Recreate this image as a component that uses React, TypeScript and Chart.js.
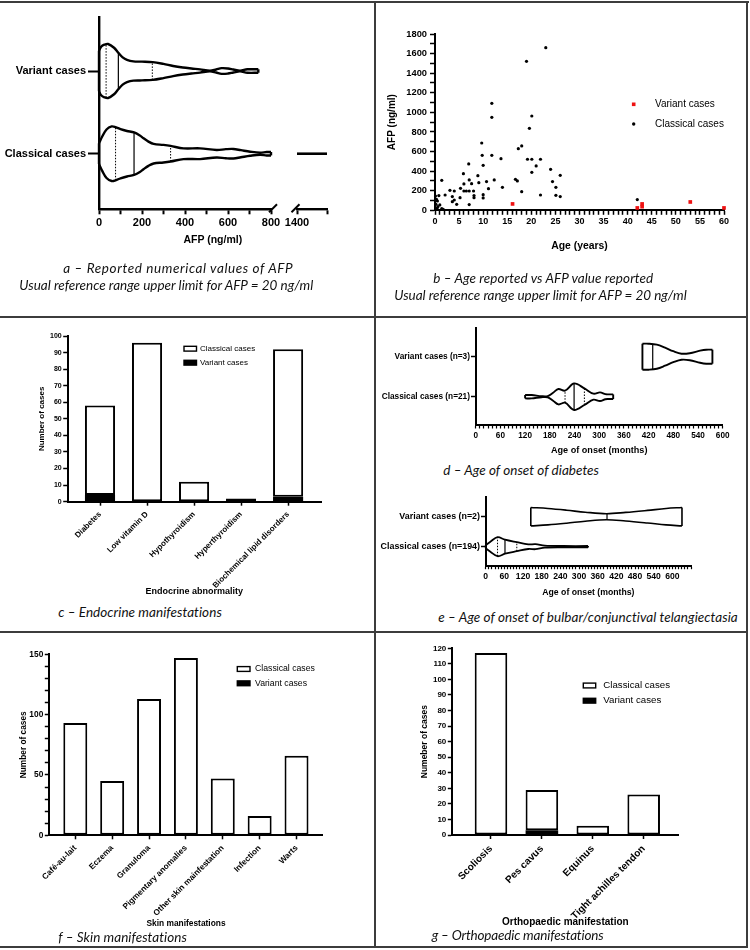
import React, { useEffect, useLayoutEffect, useRef } from "react";
import { Chart, registerables } from "chart.js";
Chart.register(...registerables);

const FONT = "'Liberation Sans', Arial, sans-serif";
const CAPTION_FONT = "Lato, 'Open Sans', sans-serif";

// ===== a: reported AFP values (violins) =====
const afpGroups = ["Classical cases", "Variant cases"];
const afpTicks = [0, 100, 200, 300, 400, 500, 600, 700, 800];
const afpBreakTicks = [1400, 1600];
const afpVariantValues = [0, 10, 25, 42, 70, 90, 110, 130, 160, 200, 250, 300, 345, 390, 430, 470, 516, 545, 570, 600, 625, 656, 690, 741];
const afpVariantDensity = [20, 24, 26, 26.7, 23, 18, 13.5, 11, 9.5, 9.3, 8.8, 7, 5, 3.5, 2.5, 1.6, 0.3, 1.5, 2.8, 2.5, 1.5, 0.4, 1.7, 1.7];
const afpVariantQuartiles = [33, 90, 248];
const afpClassicalValues = [0, 15, 35, 59, 77, 100, 130, 163, 190, 207, 230, 254, 300, 333, 393, 470, 547, 590, 625, 660, 703, 749, 780, 800];
const afpClassicalDensity = [10.3, 17, 24, 27, 26.3, 24.3, 22.5, 21, 18, 15.3, 12, 9.7, 8.7, 7.7, 5.3, 5.3, 3.7, 4.5, 4.7, 3.5, 2, 1, 1.7, 1.7];
const afpClassicalQuartiles = [77, 163, 333];
const afpClassicalTail = [1400, 1600];

// ===== b: age vs AFP =====
const classicalAge = [0.1, 0.3, 0.5, 0.2, 0.6, 0.4, 1.0, 1.4, 1.7, 0.8, 1.4, 2.1, 3.1, 3.6, 3.6, 4.0, 4.0, 4.5, 5.2, 5.3, 5.9, 6.0, 6.0, 6.5, 7.0, 7.1, 7.1, 7.1, 7.6, 8.0, 8.1, 8.1, 8.9, 9.1, 9.7, 9.8, 10.0, 10.0, 10.0, 10.7, 11.1, 11.8, 11.8, 11.8, 12.3, 13.7, 14.0, 16.7, 17.1, 17.3, 18.0, 18.0, 19.0, 19.2, 19.6, 20.1, 20.1, 20.1, 21.0, 21.9, 21.9, 23.0, 24.0, 24.4, 25.1, 25.1, 26.0, 26.0, 42.0];
const classicalAfp = [146, 112, 95, 61, 37, 20, 55, 17, 10, 150, 306, 156, 204, 140, 88, 197, 105, 61, 129, 224, 374, 269, 197, 197, 473, 310, 197, 58, 272, 197, 150, 129, 354, 282, 687, 561, 459, 160, 126, 293, 221, 1092, 949, 561, 310, 527, 235, 316, 300, 629, 657, 190, 1521, 521, 837, 963, 521, 388, 453, 521, 156, 1660, 418, 293, 235, 153, 357, 140, 109];
const variantAge = [16.1, 42.0, 43.0, 43.0, 53.0, 60.0];
const variantAfp = [65, 24, 65, 37, 85, 24];
const ageTicks = Array.from({ length: 61 }, (_, i) => i);
const afpAxisTicks = Array.from({ length: 19 }, (_, i) => i * 100);

// ===== c: endocrine =====
const endocrineCategories = ["Diabetes", "Low vitamin D", "Hypothyroidism", "Hyperthyroidism", "Biochemical lipid disorders"];
const endocrineVariant = [4, 0, 0, 0, 3];
const endocrineClassical = [54, 96, 12, 2, 89];
const endocrineTicks = [0, 10, 20, 30, 40, 50, 60, 70, 80, 90, 100];

// ===== d: diabetes onset =====
const diabGroups = ["Classical cases (n=21)", "Variant cases (n=3)"];
const diabVariantValues = [405, 420, 440, 460, 480, 500, 520, 545, 560, 575];
const diabVariantDensity = [13, 13, 12, 9, 5.5, 3, 3.5, 6, 7, 7];
const diabVariantQuartiles = [430];
const diabClassicalValues = [120, 136, 160, 175, 188, 201, 217, 239, 264, 286, 302, 315, 322, 334];
const diabClassicalDensity = [1.7, 1.7, 0.5, 0.6, 4, 7.7, 6, 13.3, 8.3, 3, 4.3, 2.5, 2.3, 2.3];
const diabClassicalQuartiles = [217, 239, 264];
const monthTicks600 = Array.from({ length: 61 }, (_, i) => i * 10);

// ===== e: telangiectasia onset =====
const telGroups = ["Classical cases (n=194)", "Variant cases (n=2)"];
const telVariantValues = [145, 200, 260, 320, 388, 450, 520, 580, 631];
const telVariantDensity = [9.2, 8.2, 6.5, 4.5, 3, 4.3, 6.3, 8.2, 9.2];
const telVariantQuartiles = [390];
const telClassicalValues = [0, 15, 38, 62, 100, 137, 160, 190, 250, 329];
const telClassicalDensity = [1.5, 5, 9.5, 7, 4.5, 2.3, 2.5, 1, 0.7, 0.7];
const telClassicalQuartiles = [38, 62, 100];
const monthTicks660 = Array.from({ length: 67 }, (_, i) => i * 10);

// ===== f: skin =====
const skinCategories = ["Café-au-lait", "Eczema", "Granuloma", "Pigmentary anomalies", "Other skin mainfestation", "Infection", "Warts"];
const skinClassical = [93, 45, 113, 147, 47, 16, 66];
const skinVariant = [0, 0, 0, 0, 0, 0, 0];
const skinTicks = Array.from({ length: 16 }, (_, i) => i * 10);

// ===== g: orthopaedic =====
const orthoCategories = ["Scoliosis", "Pes cavus", "Equinus", "Tight achilles tendon"];
const orthoVariant = [0, 3, 0, 0];
const orthoClassical = [117, 26, 6, 26];
const orthoTicks = Array.from({ length: 13 }, (_, i) => i * 10);

// ---------------------------------------------------------------
type Rect = { x: number; y: number; w: number; h: number };
type Area = { l: number; t: number; r: number; b: number };

const legendPlugin = {
  id: "boxLegend",
  afterDraw(chart: any, _a: any, opts: any) {
    if (!opts || !opts.order) return;
    const { ctx, chartArea } = chart;
    ctx.save();
    opts.order.forEach((di: number, i: number) => {
      const ds = chart.data.datasets[di];
      const cx = chartArea.left + opts.x;
      const cy = chartArea.top + opts.y + i * opts.gap;
      if (opts.kind === "box") {
        ctx.fillStyle = ds.backgroundColor;
        ctx.fillRect(cx, cy - opts.bh / 2, opts.bw, opts.bh);
        ctx.strokeStyle = "#000";
        ctx.lineWidth = 1.4;
        ctx.strokeRect(cx, cy - opts.bh / 2, opts.bw, opts.bh);
      } else {
        ctx.fillStyle = ds.backgroundColor;
        if (ds.pointStyle === "rect") {
          ctx.fillRect(cx - 1.8, cy - 1.8, 3.6, 3.6);
        } else {
          ctx.beginPath();
          ctx.arc(cx, cy, 1.7, 0, Math.PI * 2);
          ctx.fill();
        }
      }
      ctx.fillStyle = "#000";
      ctx.font = `${opts.font}px ${FONT}`;
      ctx.textBaseline = "middle";
      ctx.textAlign = "left";
      ctx.fillText(ds.label, cx + opts.tx, cy);
    });
    ctx.restore();
  },
};

const breakPlugin = {
  id: "breakMark",
  afterDraw(chart: any, _a: any, opts: any) {
    if (!opts || !opts.side) return;
    const { ctx, chartArea } = chart;
    const x = (opts.side === "right" ? chartArea.right : chartArea.left) + opts.dx;
    const y = chartArea.bottom - 1;
    ctx.save();
    ctx.strokeStyle = "#000";
    ctx.lineWidth = 2;
    ctx.beginPath();
    ctx.moveTo(x - 4, y + 4);
    ctx.lineTo(x + 4, y - 4);
    ctx.stroke();
    ctx.restore();
  },
};

function makeAxis(axis: "x" | "y", s: any, rect: Rect, area: Area) {
  const size = axis === "x" ? rect.y + rect.h - area.b : area.l - rect.x;
  let titlePad = 0;
  if (s.title) {
    const lh = s.title.font * 1.2;
    titlePad = axis === "y" ? s.title.center - rect.x - lh / 2 : rect.y + rect.h - s.title.center - lh / 2;
  }
  return {
    type: "linear",
    position: axis === "x" ? "bottom" : "left",
    min: s.min,
    max: s.max,
    offset: false,
    stacked: !!s.stacked,
    afterBuildTicks: (sc: any) => {
      sc.ticks = s.ticks.map((v: number) => ({ value: v }));
    },
    afterFit: (sc: any) => {
      if (axis === "x") sc.height = size;
      else sc.width = size;
    },
    border: { display: !s.hidden, color: "#000", width: s.borderWidth ?? 2 },
    grid: {
      display: !s.hidden,
      offset: false,
      drawOnChartArea: false,
      drawTicks: true,
      tickLength: s.tickLen,
      tickColor: "#000",
      tickWidth: s.tickWidth ?? 1.5,
      color: "#000",
    },
    ticks: {
      display: !s.hidden,
      color: "#000",
      font: { family: FONT, size: s.font, weight: "bold" },
      padding: s.pad,
      autoSkip: false,
      minRotation: s.rotation ?? 0,
      maxRotation: s.rotation ?? 0,
      callback: (v: any) => s.label(v),
    },
    title: s.title
      ? {
          display: true,
          text: s.title.text,
          color: "#000",
          font: { family: FONT, size: s.title.font, weight: "bold", lineHeight: 1.2 },
          padding: axis === "y" ? { top: titlePad, bottom: 0 } : { top: 0, bottom: titlePad },
        }
      : { display: false },
  };
}

function baseOptions(rect: Rect, area: Area, scales: any, plugins: any = {}) {
  return {
    responsive: false,
    animation: false,
    devicePixelRatio: 1,
    events: [],
    layout: { padding: { left: 0, top: area.t - rect.y, right: rect.x + rect.w - area.r, bottom: 0 } },
    plugins: { legend: { display: false }, tooltip: { enabled: false }, ...plugins },
    scales,
  };
}

function interp(vals: number[], dens: number[], v: number) {
  for (let i = 0; i < vals.length - 1; i++) {
    if (v >= vals[i] && v <= vals[i + 1]) {
      const t = (v - vals[i]) / (vals[i + 1] - vals[i]);
      return dens[i] + t * (dens[i + 1] - dens[i]);
    }
  }
  return 0;
}

function lineDs(data: any[], lw: number, extra: any = {}) {
  return {
    data,
    showLine: true,
    borderColor: "#000",
    backgroundColor: "#000",
    borderWidth: lw,
    pointRadius: 0,
    tension: 0.35,
    fill: false,
    clip: false,
    ...extra,
  };
}

function violin(vals: number[], dens: number[], center: number, k: number, lw: number, quart: number[]) {
  const top = vals.map((v, i) => ({ x: v, y: center + dens[i] * k }));
  const bot = vals.map((v, i) => ({ x: v, y: center - dens[i] * k }));
  const n = vals.length - 1;
  const ds: any[] = [
    lineDs(top, lw),
    lineDs(bot, lw),
    lineDs([{ x: vals[0], y: center - dens[0] * k }, { x: vals[0], y: center + dens[0] * k }], lw, { tension: 0 }),
    lineDs([{ x: vals[n], y: center - dens[n] * k }, { x: vals[n], y: center + dens[n] * k }], lw, { tension: 0 }),
  ];
  quart.forEach((q) => {
    const h = interp(vals, dens, q) * k;
    const isMedian = quart.length === 1 || q === quart[1];
    ds.push(
      lineDs([{ x: q, y: center - h }, { x: q, y: center + h }], isMedian ? 1.2 : 1, {
        tension: 0,
        borderDash: isMedian ? [] : [1.5, 1.5],
      })
    );
  });
  return ds;
}

function ChartCanvas({ rect, config }: { rect: Rect; config: () => any }) {
  const ref = useRef<HTMLCanvasElement>(null);
  useEffect(() => {
    const c = new Chart(ref.current as HTMLCanvasElement, config());
    return () => c.destroy();
  }, []);
  return (
    <canvas
      ref={ref}
      width={rect.w}
      height={rect.h}
      style={{ position: "absolute", left: rect.x, top: rect.y, width: rect.w, height: rect.h }}
    />
  );
}

// ---------- chart configs ----------
const rA1: Rect = { x: 0, y: 4, w: 300, h: 250 };
const aA1: Area = { l: 99, t: 17, r: 271, b: 209.3 };
const rA2: Rect = { x: 278, y: 4, w: 70, h: 250 };
const aA2: Area = { l: 297, t: 17, r: 327, b: 209.3 };
const A_YMIN = -0.672, A_YMAX = 1.653, A_K = 0.33 / 27;

function configA1() {
  return {
    type: "scatter",
    data: {
      datasets: [
        ...violin(afpVariantValues, afpVariantDensity, 1, A_K, 2.4, afpVariantQuartiles),
        ...violin(afpClassicalValues, afpClassicalDensity, 0, A_K, 2.4, afpClassicalQuartiles),
      ],
    },
    options: baseOptions(rA1, aA1, {
      x: makeAxis("x", { min: 0, max: 800, ticks: afpTicks, label: (v: number) => (v % 200 === 0 ? String(v) : ""), font: 11, tickLen: 5, pad: 2, borderWidth: 2.4, tickWidth: 2 }, rA1, aA1),
      y: makeAxis("y", { min: A_YMIN, max: A_YMAX, ticks: [0, 1], label: (v: number) => afpGroups[v] ?? "", font: 11, tickLen: 11, pad: 2, borderWidth: 2.4, tickWidth: 2 }, rA1, aA1),
    }, { breakMark: { side: "right", dx: 2 } }),
    plugins: [breakPlugin],
  };
}

function configA2() {
  return {
    type: "scatter",
    data: {
      datasets: [lineDs(afpClassicalTail.map((v) => ({ x: v, y: 0 })), 2.6, { tension: 0 })],
    },
    options: baseOptions(rA2, aA2, {
      x: makeAxis("x", { min: 1400, max: 1600, ticks: afpBreakTicks, label: (v: number) => (v === 1400 ? "1400" : ""), font: 11, tickLen: 5, pad: 2, borderWidth: 2.4, tickWidth: 2 }, rA2, aA2),
      y: makeAxis("y", { min: A_YMIN, max: A_YMAX, ticks: [0, 1], label: () => "", font: 11, tickLen: 0, pad: 0, hidden: true }, rA2, aA2),
    }, { breakMark: { side: "left", dx: -1.5 } }),
    plugins: [breakPlugin],
  };
}

const rB: Rect = { x: 378, y: 4, w: 366, h: 250 };
const aB: Area = { l: 435, t: 34, r: 724, b: 210.3 };
function configB() {
  return {
    type: "scatter",
    data: {
      datasets: [
        { label: "Variant cases", data: variantAge.map((a, i) => ({ x: a, y: variantAfp[i] })), backgroundColor: "#ee1111", borderWidth: 0, pointStyle: "rect", pointRadius: 2.6, clip: false },
        { label: "Classical cases", data: classicalAge.map((a, i) => ({ x: a, y: classicalAfp[i] })), backgroundColor: "#000", borderWidth: 0, pointStyle: "circle", pointRadius: 1.6, clip: false },
      ],
    },
    options: baseOptions(rB, aB, {
      x: makeAxis("x", { min: 0, max: 60, ticks: ageTicks, label: (v: number) => (v % 5 === 0 ? String(v) : ""), font: 9, tickLen: 4.5, pad: 1, title: { text: "Age (years)", font: 10.4, center: 246 } }, rB, aB),
      y: makeAxis("y", { min: 0, max: 1800, ticks: afpAxisTicks, label: (v: number) => (v % 200 === 0 ? String(v) : ""), font: 9.3, tickLen: 5, pad: 3, title: { text: "AFP (ng/ml)", font: 10, center: 392 } }, rB, aB),
    }, { boxLegend: { order: [0, 1], kind: "point", x: 198.7, y: 70.3, gap: 19.7, tx: 21.3, font: 10 } }),
    plugins: [legendPlugin],
  };
}

function barConfig(rect: Rect, area: Area, cats: string[], variant: number[], classical: number[], s: any) {
  return {
    type: "bar",
    data: {
      datasets: [
        { label: "Variant cases", data: cats.map((_, i) => ({ x: i, y: variant[i] })), backgroundColor: "#000", borderWidth: 0, barPercentage: s.bar, categoryPercentage: 1 },
        { label: "Classical cases", data: cats.map((_, i) => ({ x: i, y: classical[i] })), backgroundColor: "#fff", borderColor: "#000", borderWidth: 2, borderSkipped: false, barPercentage: s.bar, categoryPercentage: 1 },
      ],
    },
    options: baseOptions(rect, area, {
      x: makeAxis("x", { min: s.xmin, max: s.xmax, ticks: cats.map((_, i) => i), label: (v: number) => cats[v] ?? "", font: s.catFont, tickLen: 4, pad: s.catPad, rotation: 45, stacked: true, title: s.xTitle }, rect, area),
      y: makeAxis("y", { min: 0, max: s.ymax, ticks: s.yTicks, label: s.yLabel, font: s.yFont, tickLen: 4.5, pad: 1.5, stacked: true, title: s.yTitle }, rect, area),
    }, { boxLegend: { order: [1, 0], kind: "box", ...s.legend } }),
    plugins: [legendPlugin],
  };
}

const rC: Rect = { x: 0, y: 318, w: 372, h: 282 };
const aC: Area = { l: 67.7, t: 336, r: 321, b: 501.7 };
function configC() {
  return barConfig(rC, aC, endocrineCategories, endocrineVariant, endocrineClassical, {
    bar: 0.64, xmin: -0.687, xmax: 4.7, ymax: 100, yTicks: endocrineTicks, yLabel: (v: number) => String(v), yFont: 7, catFont: 8, catPad: 4,
    xTitle: { text: "Endocrine abnormality", font: 9, center: 591.7 },
    yTitle: { text: "Number of cases", font: 8, center: 42 },
    legend: { x: 116.3, y: 12.7, gap: 14, bw: 12.5, bh: 4.8, tx: 16, font: 8 },
  });
}

const rF: Rect = { x: 0, y: 634, w: 372, h: 300 };
const aF: Area = { l: 49.3, t: 654.3, r: 322.7, b: 835.3 };
function configF() {
  return barConfig(rF, aF, skinCategories, skinVariant, skinClassical, {
    bar: 0.65, xmin: -0.705, xmax: 6.71, ymax: 150, yTicks: skinTicks, yLabel: (v: number) => (v % 50 === 0 ? String(v) : ""), yFont: 8.4, catFont: 8.2, catPad: 4,
    xTitle: { text: "Skin manifestations", font: 8.4, center: 923.3 },
    yTitle: { text: "Number of cases", font: 8.3, center: 23.3 },
    legend: { x: 188, y: 14.7, gap: 14.3, bw: 12.7, bh: 4.8, tx: 17.7, font: 8.7 },
  });
}

const rG: Rect = { x: 377, y: 634, w: 368, h: 300 };
const aG: Area = { l: 452.3, t: 648.3, r: 678.3, b: 835 };
function configG() {
  return barConfig(rG, aG, orthoCategories, orthoVariant, orthoClassical, {
    bar: 0.64, xmin: -0.76, xmax: 3.68, ymax: 120, yTicks: orthoTicks, yLabel: (v: number) => String(v), yFont: 8, catFont: 10, catPad: 4,
    xTitle: { text: "Orthopaedic manifestation", font: 10, center: 922.7 },
    yTitle: { text: "Numeber of cases", font: 8.5, center: 425 },
    legend: { x: 131, y: 37.2, gap: 15.2, bw: 12.4, bh: 4.8, tx: 20, font: 9.7 },
  });
}

const rD: Rect = { x: 377, y: 318, w: 368, h: 142 };
const aD: Area = { l: 475.7, t: 328, r: 722.7, b: 425 };
function configD() {
  const k = 0.333 / 13.3;
  return {
    type: "scatter",
    data: {
      datasets: [
        ...violin(diabVariantValues, diabVariantDensity, 1, k, 1.9, diabVariantQuartiles),
        ...violin(diabClassicalValues, diabClassicalDensity, 0, k, 1.9, diabClassicalQuartiles),
      ],
    },
    options: baseOptions(rD, aD, {
      x: makeAxis("x", { min: 0, max: 600, ticks: monthTicks600, label: (v: number) => (v % 60 === 0 ? String(v) : ""), font: 8.2, tickLen: 3.5, pad: 2, tickWidth: 1.2, title: { text: "Age of onset (months)", font: 9.1, center: 450 } }, rD, aD),
      y: makeAxis("y", { min: -0.7075, max: 1.7175, ticks: [0, 1], label: (v: number) => diabGroups[v] ?? "", font: 8.3, tickLen: 4.7, pad: 1 }, rD, aD),
    }),
  };
}

const rE: Rect = { x: 377, y: 480, w: 368, h: 122 };
const aE: Area = { l: 485.7, t: 496.7, r: 691, b: 565.7 };
function configE() {
  const k = 0.317 / 9.5;
  return {
    type: "scatter",
    data: {
      datasets: [
        ...violin(telVariantValues, telVariantDensity, 1, k, 1.6, telVariantQuartiles),
        ...violin(telClassicalValues, telClassicalDensity, 0, k, 1.8, telClassicalQuartiles),
      ],
    },
    options: baseOptions(rE, aE, {
      x: makeAxis("x", { min: 0, max: 660, ticks: monthTicks660, label: (v: number) => (v % 60 === 0 && v <= 600 ? String(v) : ""), font: 8.6, tickLen: 3.5, pad: 2, tickWidth: 1.2, title: { text: "Age of onset (months)", font: 8.7, center: 592.3 } }, rE, aE),
      y: makeAxis("y", { min: -0.633, max: 1.667, ticks: [0, 1], label: (v: number) => telGroups[v] ?? "", font: 8.9, tickLen: 4.7, pad: 1 }, rE, aE),
    }),
  };
}

const LINE = "#3c3c3c";
function Rule({ x, y, w, h }: { x: number; y: number; w: number; h: number }) {
  return <div style={{ position: "absolute", left: x, top: y, width: w, height: h, background: LINE }} />;
}

// caption: italic text fitted to the width it spans in the reference
function Caption({ x, y, w, text, size = 13.5 }: { x: number; y: number; w: number; text: string; size?: number }) {
  const ref = useRef<HTMLDivElement>(null);
  useLayoutEffect(() => {
    const el = ref.current;
    if (!el) return;
    el.style.letterSpacing = "0px";
    const actual = el.getBoundingClientRect().width;
    el.style.letterSpacing = `${(w - actual) / text.length}px`;
  }, [w, text]);
  return (
    <div
      ref={ref}
      style={{
        position: "absolute",
        left: x,
        top: y - size * 0.6,
        fontFamily: CAPTION_FONT,
        fontStyle: "italic",
        fontSize: size,
        lineHeight: 1.2,
        whiteSpace: "nowrap",
        color: "#111",
      }}
    >
      {text}
    </div>
  );
}

export default function App() {
  return (
    <div style={{ position: "fixed", left: 0, top: 0, width: 750, height: 950, background: "#fff", overflow: "hidden" }}>
      <ChartCanvas rect={rA1} config={configA1} />
      <ChartCanvas rect={rA2} config={configA2} />
      <div style={{ position: "absolute", left: 212.8, top: 239.3 - 6.3, transform: "translateX(-50%)", fontFamily: FONT, fontWeight: "bold", fontSize: 10.5, lineHeight: "12.6px", whiteSpace: "nowrap", color: "#000" }}>
        AFP (ng/ml)
      </div>
      <ChartCanvas rect={rB} config={configB} />
      <ChartCanvas rect={rC} config={configC} />
      <ChartCanvas rect={rD} config={configD} />
      <ChartCanvas rect={rE} config={configE} />
      <ChartCanvas rect={rF} config={configF} />
      <ChartCanvas rect={rG} config={configG} />

      <Caption x={63.3} y={267.7} w={230} text="a – Reported numerical values of AFP" />
      <Caption x={19.3} y={285} w={294} text="Usual reference range upper limit for AFP = 20 ng/ml" />
      <Caption x={433.3} y={277.7} w={220} text="b – Age reported vs AFP value reported" />
      <Caption x={394.3} y={295} w={292.4} text="Usual reference range upper limit for AFP = 20 ng/ml" />
      <Caption x={58.3} y={612.3} w={163.4} text="c – Endocrine manifestations" />
      <Caption x={443.3} y={470} w={155.7} text="d – Age of onset of diabetes" />
      <Caption x={438.3} y={617.3} w={299.4} text="e – Age of onset of bulbar/conjunctival telangiectasia" />
      <Caption x={58.3} y={936.7} w={128.4} text="f – Skin manifestations" />
      <Caption x={431.7} y={935} w={171.6} text="g – Orthopaedic manifestations" />

      <Rule x={0} y={1} w={749} h={2} />
      <Rule x={746} y={1} w={2} h={947} />
      <Rule x={0} y={946} w={748} h={2} />
      <Rule x={374} y={1} w={2} h={947} />
      <Rule x={0} y={316} w={748} h={2} />
      <Rule x={0} y={631} w={748} h={2} />
    </div>
  );
}
